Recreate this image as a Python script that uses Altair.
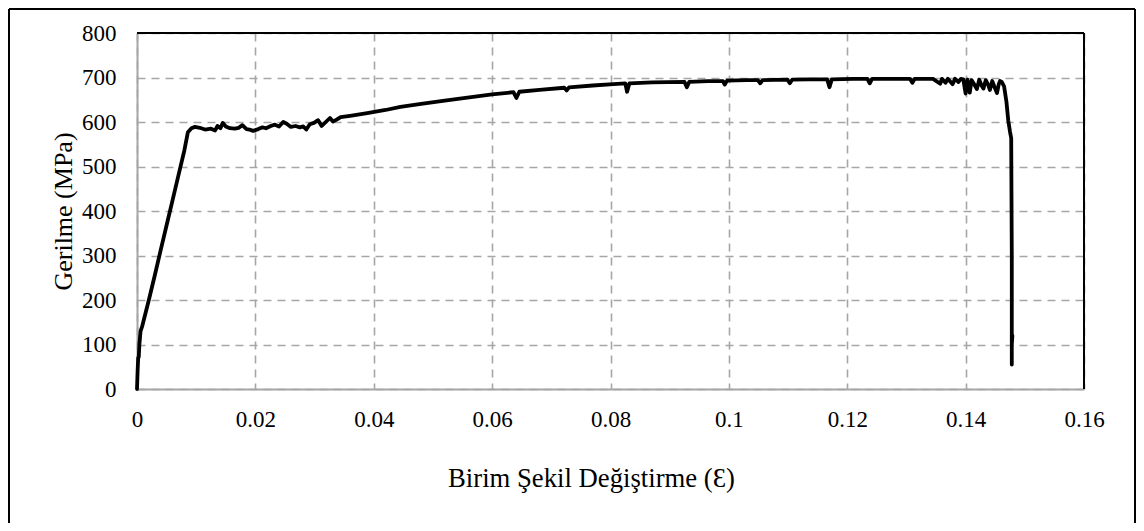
import altair as alt
import pandas as pd

# Stress-strain curve
strain = [0, 0.0001, 0.0002, 0.0003, 0.0004, 0.0006, 0.0009, 0.002, 0.003, 0.004,
          0.005, 0.006, 0.007, 0.008, 0.0086, 0.0092, 0.0098, 0.0106, 0.0115, 0.0125,
          0.0132, 0.0136, 0.0141, 0.0145, 0.015, 0.0157, 0.0165, 0.0172, 0.0178, 0.0185,
          0.019, 0.0196, 0.0205, 0.0212, 0.0218, 0.0226, 0.0233, 0.024, 0.0247, 0.0253,
          0.026, 0.0268, 0.0275, 0.0281, 0.0286, 0.0292, 0.0299, 0.0306, 0.0312, 0.0319,
          0.0326, 0.0331, 0.0338, 0.0344, 0.036, 0.0389, 0.042, 0.0445, 0.048, 0.052,
          0.0555, 0.06, 0.0636, 0.0641, 0.0646, 0.068, 0.0722, 0.0726,
          0.073, 0.077, 0.0805, 0.0825, 0.0828, 0.0832, 0.087, 0.0925, 0.0929, 0.0933,
          0.0965, 0.099, 0.0993, 0.0997, 0.103, 0.1049, 0.1053, 0.1057, 0.1099, 0.1103,
          0.1107, 0.1135, 0.1166, 0.117, 0.1174, 0.121, 0.1234, 0.1238, 0.1242, 0.1275,
          0.1306, 0.131, 0.1314, 0.1345, 0.1357, 0.136, 0.1366, 0.137, 0.1378, 0.1382,
          0.1388, 0.1392, 0.1396, 0.14, 0.1403, 0.1407, 0.141, 0.1414, 0.1419, 0.1423,
          0.1427, 0.143, 0.1434, 0.1438, 0.1441, 0.1445, 0.1449, 0.1453, 0.1456, 0.1458,
          0.1461, 0.1465, 0.1469, 0.1472, 0.1475, 0.1477, 0.1478, 0.1478, 0.1478, 0.1479]
stress = [0, 40, 70, 72, 100, 130, 142, 200, 255, 312,
          368, 424, 480, 536, 577, 586, 589, 587, 583, 585,
          581, 591, 586, 598, 590, 586, 585, 587, 593, 584,
          583, 580, 584, 588, 586, 591, 594, 590, 600, 596,
          589, 591, 588, 590, 583, 595, 598, 604, 591, 600,
          609, 601, 606, 611, 614, 620, 627, 634, 641, 648,
          654, 662, 667, 654, 668, 672, 677, 671,
          678, 682, 685, 687, 668, 687, 689, 690, 678, 690,
          692, 692, 684, 693, 694, 694, 687, 694, 695, 687,
          695, 696, 696, 678, 696, 697, 697, 687, 697, 697,
          697, 688, 697, 697, 686, 697, 688, 697, 685, 697,
          690, 697, 696, 664, 695, 666, 694, 686, 674, 695,
          682, 675, 694, 684, 672, 692, 678, 665, 685, 692,
          690, 680, 645, 604, 578, 564, 300, 55, 100, 120]

y_ticks = [0, 100, 200, 300, 400, 500, 600, 700, 800]
x_ticks = [0, 0.02, 0.04, 0.06, 0.08, 0.1, 0.12, 0.14, 0.16]

df = pd.DataFrame({"strain": strain, "stress": stress, "idx": range(len(strain))})

W, H = 947, 356
FONT = "Liberation Serif"
GRAY = "#a6a6a6"

base = alt.Chart(df)

line = base.mark_line(color="black", strokeWidth=3.8, strokeJoin="round", strokeCap="round").encode(
    x=alt.X("strain:Q",
            scale=alt.Scale(domain=[0, 0.16], nice=False),
            axis=alt.Axis(values=x_ticks, format="~g", title="Birim Şekil Değiştirme (Ɛ)",
                          titleX=454, titleY=97, titleBaseline="alphabetic", titleFontSize=26.7)),
    y=alt.Y("stress:Q",
            scale=alt.Scale(domain=[0, 800], nice=False),
            axis=alt.Axis(values=y_ticks, title="Gerilme (MPa)",
                          titleX=-65.5, titleY=H / 2, titleBaseline="alphabetic")),
    order="idx:Q",
)

dummy = alt.Chart(pd.DataFrame({"a": [0]}))

frame_top = dummy.mark_rule(color="black", strokeWidth=2).encode(
    x=alt.value(0), x2=alt.value(W), y=alt.value(0))
frame_right = dummy.mark_rule(color="black", strokeWidth=2).encode(
    x=alt.value(W), y=alt.value(0), y2=alt.value(H))

outer_top = dummy.mark_rule(color="black", strokeWidth=2).encode(
    x=alt.value(-128), x2=alt.value(998), y=alt.value(-24))
outer_left = dummy.mark_rule(color="black", strokeWidth=2).encode(
    x=alt.value(-128), y=alt.value(-24), y2=alt.value(H + 150))
outer_right = dummy.mark_rule(color="black", strokeWidth=2).encode(
    x=alt.value(998), y=alt.value(-24), y2=alt.value(H + 150))

chart = alt.layer(line, frame_top, frame_right, outer_top, outer_left, outer_right).properties(
    width=W, height=H,
    autosize=alt.AutoSizeParams(type="none"),
    padding={"left": 129, "top": 25, "right": 52, "bottom": 134},
).configure_view(stroke=None).configure_axis(
    labelFont=FONT, titleFont=FONT, labelFontSize=23, titleFontSize=26,
    labelColor="black", titleColor="black", titleFontWeight="normal",
    ticks=False, domainColor=GRAY, domainWidth=2, labelFlush=False,
    grid=True, gridColor=GRAY, gridDash=[8, 6], gridWidth=1.6,
).configure_axisX(labelPadding=19).configure_axisY(labelPadding=21)

chart.save("out.html", embed_options={"renderer": "svg", "actions": False})
